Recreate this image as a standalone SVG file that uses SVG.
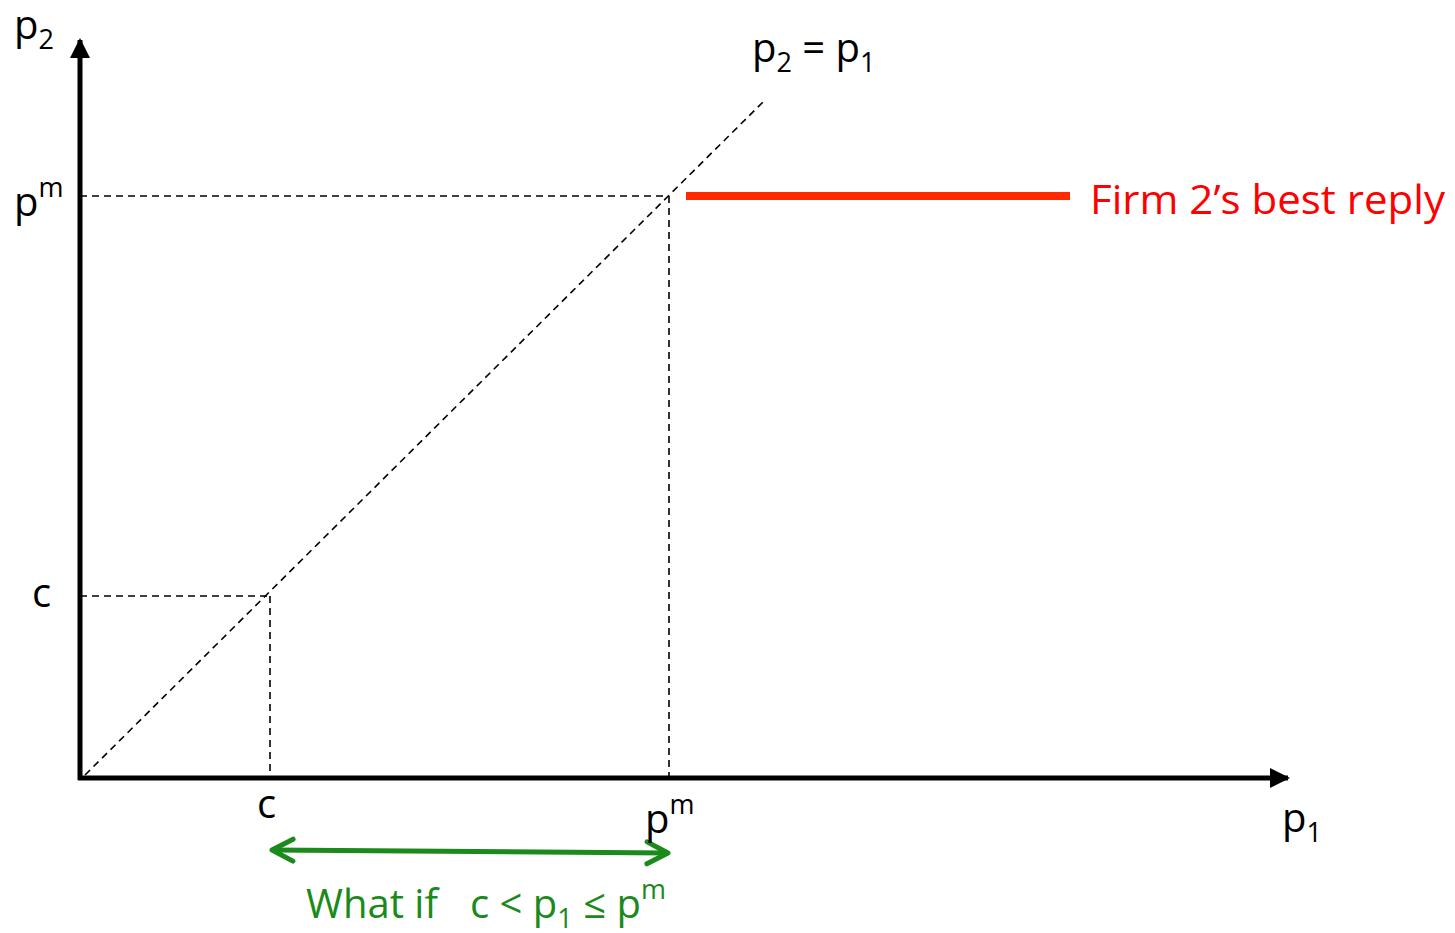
<svg xmlns="http://www.w3.org/2000/svg" width="1455" height="933" viewBox="0 0 1455 933">
<style>
text{font-family:"Open Sans","Noto Sans",sans-serif;font-size:40px;fill:#000}
.sub{font-size:27px}
.dash{stroke:#000;stroke-width:1.6;stroke-dasharray:7,5;fill:none}
.axis{stroke:#000;stroke-width:5;fill:none}
</style>
<defs>
<marker id="ah" viewBox="0 0 10 10" refX="9" refY="5" markerWidth="4" markerHeight="4" orient="auto"><path d="M0,0 L10,5 L0,10 z" fill="#000"/></marker>
<marker id="gh" viewBox="0 0 30 30" refX="27" refY="15" markerUnits="userSpaceOnUse" markerWidth="30" markerHeight="30" orient="auto-start-reverse"><path d="M6,4 L27,15 L6,26" fill="none" stroke="#1a8a1a" stroke-width="5" stroke-linecap="round" stroke-linejoin="round"/></marker>
</defs>
<g id="connectors">
<line class="dash" x1="85" y1="775" x2="763" y2="102"/>
<line class="dash" x1="80" y1="196" x2="668" y2="196"/>
<line class="dash" x1="669" y1="196" x2="669" y2="778"/>
<line class="dash" x1="80" y1="596" x2="270" y2="596"/>
<line class="dash" x1="270" y1="596" x2="270" y2="778"/>
<line class="axis" x1="80" y1="780" x2="80" y2="40" marker-end="url(#ah)"/>
<line class="axis" x1="78" y1="778" x2="1288" y2="778" marker-end="url(#ah)"/>
<line x1="686" y1="196" x2="1070" y2="196" stroke="#ff2a00" stroke-width="8"/>
<line x1="272" y1="850" x2="668" y2="853" stroke="#1a8a1a" stroke-width="5" marker-start="url(#gh)" marker-end="url(#gh)"/>
</g>
<g id="labels">
<text x="14" y="39">p<tspan class="sub" dy="10">2</tspan></text>
<text x="14" y="216">p<tspan class="sub" dy="-19">m</tspan></text>
<text x="32" y="607">c</text>
<text x="257" y="818">c</text>
<text x="645" y="833">p<tspan class="sub" dy="-19">m</tspan></text>
<text x="1282" y="832">p<tspan class="sub" dy="10">1</tspan></text>
<text x="752" y="62">p<tspan class="sub" dy="10">2</tspan><tspan dy="-10"> = p</tspan><tspan class="sub" dy="10">1</tspan></text>
<text x="1090" y="214" style="fill:#ff0000" textLength="355" lengthAdjust="spacingAndGlyphs">Firm 2’s best reply</text>
<text x="306" y="918" style="fill:#1a8a1a">What if<tspan x="470">c &lt; p</tspan><tspan class="sub" dy="10">1</tspan><tspan dy="-10"> ≤ p</tspan><tspan class="sub" dy="-19">m</tspan></text>
</g>
</svg>
